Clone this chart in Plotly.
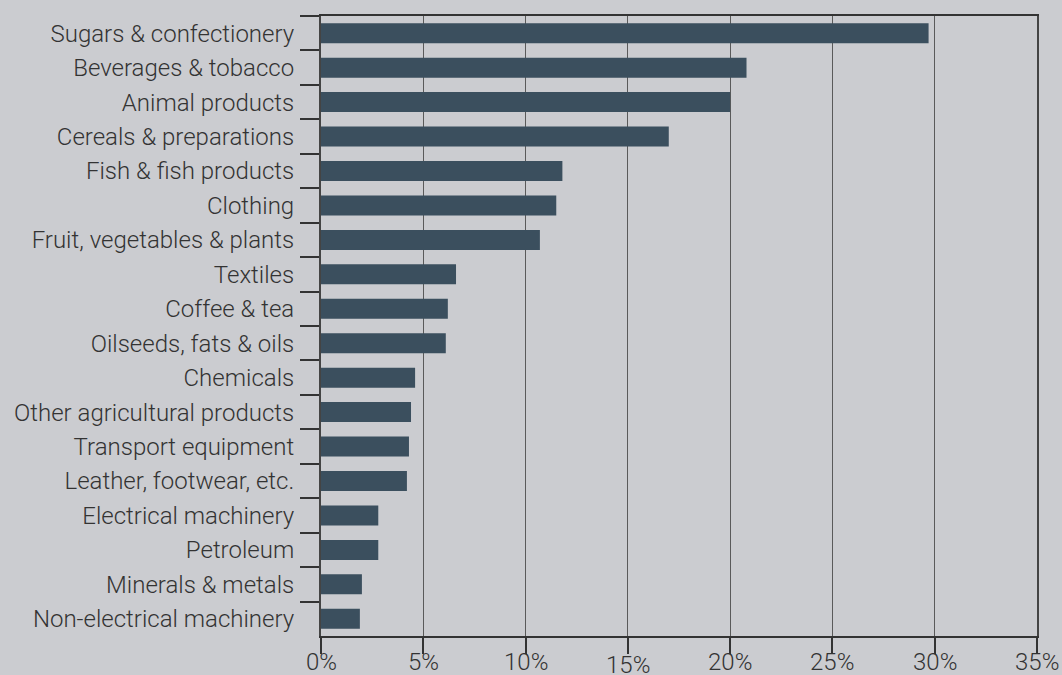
import plotly.graph_objects as go

categories = [
    "Sugars & confectionery", "Beverages & tobacco", "Animal products",
    "Cereals & preparations", "Fish & fish products", "Clothing",
    "Fruit, vegetables & plants", "Textiles", "Coffee & tea",
    "Oilseeds, fats & oils", "Chemicals", "Other agricultural products",
    "Transport equipment", "Leather, footwear, etc.", "Electrical machinery",
    "Petroleum", "Minerals & metals", "Non-electrical machinery",
]
values = [29.7, 20.8, 20.0, 17.0, 11.8, 11.5, 10.7, 6.6, 6.2, 6.1,
          4.6, 4.4, 4.3, 4.2, 2.8, 2.8, 2.0, 1.9]
tick_vals = [0, 5, 10, 15, 20, 25, 30, 35]
tick_text = ["0%", "5%", "10%", "15%", "20%", "25%", "30%", "35%"]

BG = "#cbccd0"
BAR = "#3b4f5e"
TXT = "#333333"
FONT = "Roboto"
FSIZE = 24

fig = go.Figure(go.Bar(
    x=values, y=categories, orientation="h",
    marker=dict(color=BAR, line=dict(width=0)),
    width=0.58,
))

annotations = []
for v, t in zip(tick_vals, tick_text):
    annotations.append(dict(
        x=v, xref="x", y=0, yref="paper", yanchor="middle", xanchor="center",
        text=t, showarrow=False,
        yshift=-26 if t != "15%" else -29,
        font=dict(family=FONT, size=FSIZE, color=TXT, weight=300),
    ))

fig.update_layout(
    width=1062, height=675,
    paper_bgcolor=BG, plot_bgcolor=BG,
    margin=dict(l=321, r=25, t=16, b=39),
    showlegend=False,
    bargap=0.42,
    annotations=annotations,
    xaxis=dict(
        range=[0, 35], tickvals=tick_vals, showticklabels=False,
        ticks="outside", ticklen=16, tickcolor="#333333", tickwidth=1.5,
        showgrid=True, gridcolor="#5a5a5a", gridwidth=1.3,
        showline=True, linecolor="#333333", linewidth=2, mirror=True,
        zeroline=False, fixedrange=True,
    ),
    yaxis=dict(
        categoryorder="array", categoryarray=categories,
        autorange="reversed",
        tickson="boundaries", ticks="outside", ticklen=19,
        tickcolor="#333333", tickwidth=1.5,
        showgrid=False,
        showline=True, linecolor="#444444", linewidth=2, mirror=True,
        tickfont=dict(family=FONT, size=FSIZE, color=TXT, weight=300),
        ticklabelstandoff=20, fixedrange=True,
    ),
)

fig.write_html("out.html", config={"displayModeBar": False},
               post_script="document.body.style.margin='0';document.body.style.background='" + BG + "';")
